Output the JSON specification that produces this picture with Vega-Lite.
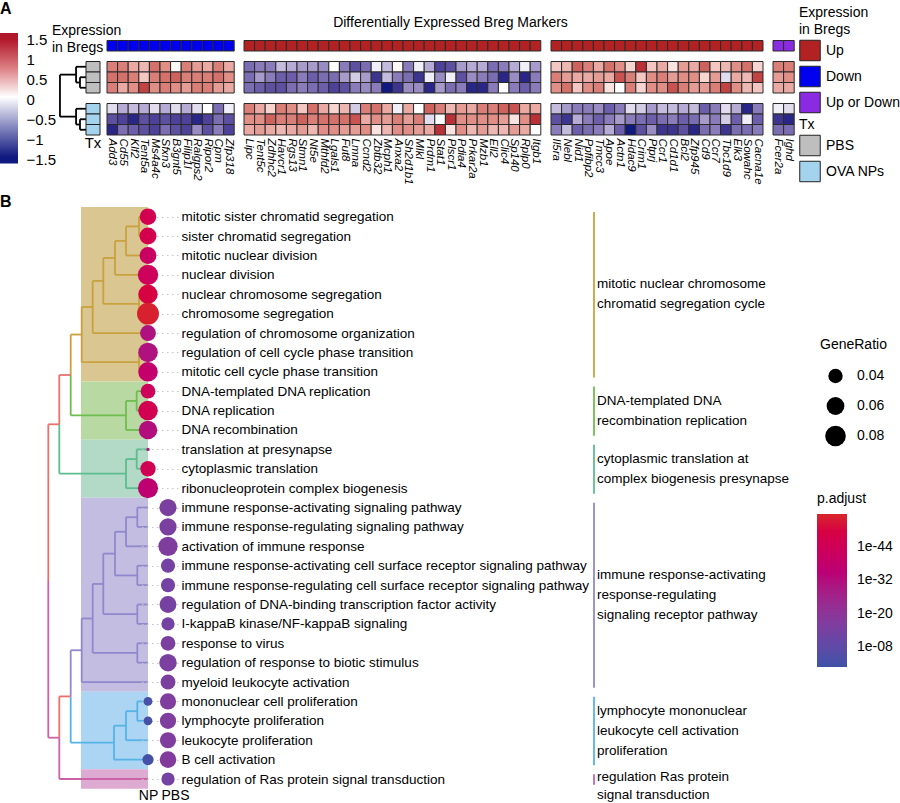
{
  "$schema": "https://vega.github.io/schema/vega-lite/v6.json",
  "padding": {"left": 0, "top": 0, "right": 0, "bottom": 0},
  "config": {
    "font": "Liberation Sans",
    "view": {"stroke": null},
    "axis": {"domain": false, "ticks": false, "grid": false, "labelColor": "#000", "labelFont": "Liberation Sans"},
    "legend": {"titleFontWeight": "normal", "titleFontSize": 14, "labelFontSize": 14, "titleColor": "#000", "labelColor": "#000", "padding": 0, "titleFont": "Liberation Sans", "labelFont": "Liberation Sans"},
    "title": {"color": "#000", "font": "Liberation Sans"}
  },
  "spacing": 8,
  "resolve": {"scale": {"color": "independent", "fill": "independent", "stroke": "independent", "size": "independent"}},
  "vconcat": [
    {
      "hconcat": [
        {
          "title": {"text": "A", "anchor": "start", "frame": "group", "fontSize": 16, "fontWeight": "bold", "offset": 13.5},
          "width": 18,
          "height": 135.5,
          "data": {"values": [{}]},
          "mark": {"type": "rect", "fill": {"gradient": "linear", "x1": 0, "y1": 0, "x2": 0, "y2": 1, "stops": [
            {"offset": 0, "color": "#B2182B"}, {"offset": 0.05, "color": "#B2182B"}, {"offset": 0.27, "color": "#DC8084"},
            {"offset": 0.49, "color": "#FFFFFF"}, {"offset": 0.72, "color": "#8487BE"}, {"offset": 0.95, "color": "#10197F"}, {"offset": 1, "color": "#10197F"}]}},
          "encoding": {
            "x": {"datum": 0, "type": "quantitative", "scale": {"domain": [0, 1]}, "axis": null},
            "x2": {"datum": 1},
            "y": {"datum": 1.66, "type": "quantitative", "scale": {"domain": [-1.65, 1.7375], "nice": false, "zero": false},
              "axis": {"orient": "right", "values": [-1.5, -1, -0.5, 0, 0.5, 1, 1.5], "format": ".1~f", "labelFontSize": 15, "labelPadding": 8, "title": null}},
            "y2": {"datum": -1.6}
          }
        },
        {
          "width": 75,
          "height": 105,
          "resolve": {"scale": {"y": "independent"}},
          "layer": [
            {
              "data": {"values": [
                {"h": 0, "h2": 0.43, "r": 4.5, "r2": 4.5}, {"h": 0, "h2": 0.43, "r": 5.5, "r2": 5.5}, {"h": 0.43, "h2": 0.43, "r": 4.5, "r2": 5.5},
                {"h": 0, "h2": 0.71, "r": 3.5, "r2": 3.5}, {"h": 0.43, "h2": 0.71, "r": 5.0, "r2": 5.0}, {"h": 0.71, "h2": 0.71, "r": 3.5, "r2": 5.0},
                {"h": 0, "h2": 0.43, "r": 8.5, "r2": 8.5}, {"h": 0, "h2": 0.43, "r": 9.5, "r2": 9.5}, {"h": 0.43, "h2": 0.43, "r": 8.5, "r2": 9.5},
                {"h": 0, "h2": 0.71, "r": 7.5, "r2": 7.5}, {"h": 0.43, "h2": 0.71, "r": 9.0, "r2": 9.0}, {"h": 0.71, "h2": 0.71, "r": 7.5, "r2": 9.0},
                {"h": 0.71, "h2": 1.86, "r": 4.25, "r2": 4.25}, {"h": 0.71, "h2": 1.86, "r": 8.25, "r2": 8.25}, {"h": 1.86, "h2": 1.86, "r": 4.25, "r2": 8.25}
              ]},
              "mark": {"type": "rule", "strokeWidth": 1.8, "color": "#000"},
              "encoding": {
                "x": {"field": "h", "type": "quantitative", "scale": {"domain": [-1, 4.357], "reverse": true, "nice": false, "zero": false}, "axis": null},
                "x2": {"field": "h2"},
                "y": {"field": "r", "type": "quantitative", "scale": {"domain": [0, 10], "reverse": true, "nice": false, "zero": false}, "axis": null},
                "y2": {"field": "r2"}
              }
            },
            {
              "data": {"values": [
                {"sample": "PBS1", "tx": "PBS"}, {"sample": "PBS2", "tx": "PBS"}, {"sample": "PBS3", "tx": "PBS"},
                {"sample": "NP1", "tx": "OVA NPs"}, {"sample": "NP2", "tx": "OVA NPs"}, {"sample": "NP3", "tx": "OVA NPs"}
              ]},
              "mark": {"type": "rect", "stroke": "#222", "strokeWidth": 1},
              "encoding": {
                "x": {"datum": 0, "type": "quantitative"},
                "x2": {"datum": -1},
                "y": {"field": "sample", "type": "nominal", "scale": {"domain": ["pad", "anno", "g1", "PBS1", "PBS2", "PBS3", "g2", "NP1", "NP2", "NP3"]}, "axis": null},
                "fill": {"field": "tx", "type": "nominal", "scale": {"domain": ["PBS", "OVA NPs"], "range": ["#BEBEBE", "#A4D3EE"]},
                  "legend": {"title": "Tx", "orient": "none", "legendX": 774, "legendY": 87.5, "symbolType": "square", "symbolSize": 420, "symbolStrokeColor": "#222", "symbolStrokeWidth": 1, "symbolOpacity": 1, "rowPadding": 0, "labelOffset": 5, "titlePadding": 3}}
              }
            },
            {
              "data": {"values": [{"t": ["Expression", "in Bregs"]}]},
              "mark": {"type": "text", "align": "left", "baseline": "middle", "fontSize": 14, "lineHeight": 17},
              "encoding": {
                "x": {"datum": 2.43, "type": "quantitative"},
                "y": {"datum": 0.14, "type": "quantitative", "scale": {"domain": [0, 10], "reverse": true, "nice": false, "zero": false}, "axis": null},
                "text": {"field": "t"}
              }
            },
            {
              "data": {"values": [{"t": "Tx"}]},
              "mark": {"type": "text", "align": "center", "baseline": "middle", "fontSize": 15},
              "encoding": {
                "x": {"datum": -0.5, "type": "quantitative"},
                "y": {"datum": 10.8, "type": "quantitative", "scale": {"domain": [0, 10], "reverse": true, "nice": false, "zero": false}, "axis": null},
                "text": {"field": "t"}
              }
            }
          ]
        },
        {
          "data": {"values": [
            {"gene": "Add3", "grp": "g1", "dir": "Down", "PBS1": 0.9, "PBS2": 1.0, "PBS3": 0.9, "NP1": -0.2, "NP2": -1.1, "NP3": -1.4},
            {"gene": "Cd55", "grp": "g1", "dir": "Down", "PBS1": 0.9, "PBS2": 1.0, "PBS3": 0.6, "NP1": -0.5, "NP2": -1.2, "NP3": -0.9},
            {"gene": "Klf2", "grp": "g1", "dir": "Down", "PBS1": 0.6, "PBS2": 0.9, "PBS3": 0.8, "NP1": -0.4, "NP2": -1.4, "NP3": -1.0},
            {"gene": "Tent5a", "grp": "g1", "dir": "Down", "PBS1": 0.5, "PBS2": 0.4, "PBS3": 1.3, "NP1": -0.5, "NP2": -1.1, "NP3": -1.1},
            {"gene": "Ms4a4c", "grp": "g1", "dir": "Down", "PBS1": 1.0, "PBS2": 0.9, "PBS3": 0.8, "NP1": -0.2, "NP2": -1.2, "NP3": -1.2},
            {"gene": "Sfxn3", "grp": "g1", "dir": "Down", "PBS1": 0.8, "PBS2": 1.0, "PBS3": 0.9, "NP1": -0.5, "NP2": -1.1, "NP3": -0.9},
            {"gene": "B3gnt5", "grp": "g1", "dir": "Down", "PBS1": 0.05, "PBS2": 1.1, "PBS3": 0.8, "NP1": -0.2, "NP2": -1.2, "NP3": -1.1},
            {"gene": "Filip1l", "grp": "g1", "dir": "Down", "PBS1": 0.9, "PBS2": 0.9, "PBS3": 0.7, "NP1": -0.5, "NP2": -1.2, "NP3": -1.2},
            {"gene": "Ralgps2", "grp": "g1", "dir": "Down", "PBS1": 0.7, "PBS2": 0.9, "PBS3": 0.9, "NP1": -0.2, "NP2": -1.4, "NP3": -0.7},
            {"gene": "Ripor2", "grp": "g1", "dir": "Down", "PBS1": 0.6, "PBS2": 0.9, "PBS3": 0.9, "NP1": 0.0, "NP2": -1.2, "NP3": -1.1},
            {"gene": "Cpm", "grp": "g1", "dir": "Down", "PBS1": 0.9, "PBS2": 1.0, "PBS3": 0.7, "NP1": -0.9, "NP2": -0.9, "NP3": -0.8},
            {"gene": "Zfp318", "grp": "g1", "dir": "Down", "PBS1": 0.6, "PBS2": 0.8, "PBS3": 0.6, "NP1": -0.1, "NP2": -1.1, "NP3": -1.2},
            {"gene": "Lipc", "grp": "g2", "dir": "Up", "PBS1": -0.9, "PBS2": -0.9, "PBS3": -0.9, "NP1": 0.9, "NP2": 0.8, "NP3": 0.6},
            {"gene": "Tent5c", "grp": "g2", "dir": "Up", "PBS1": -0.8, "PBS2": -0.6, "PBS3": -1.0, "NP1": 0.6, "NP2": 0.8, "NP3": 0.7},
            {"gene": "Zdhhc2", "grp": "g2", "dir": "Up", "PBS1": -0.8, "PBS2": -0.8, "PBS3": -1.1, "NP1": 0.3, "NP2": 1.1, "NP3": 0.6},
            {"gene": "Havcr1", "grp": "g2", "dir": "Up", "PBS1": -0.4, "PBS2": -1.0, "PBS3": -1.1, "NP1": 0.9, "NP2": 0.9, "NP3": 0.5},
            {"gene": "Rgs13", "grp": "g2", "dir": "Up", "PBS1": -0.5, "PBS2": -1.0, "PBS3": -0.9, "NP1": 0.8, "NP2": 0.9, "NP3": 0.6},
            {"gene": "Stmn1", "grp": "g2", "dir": "Up", "PBS1": -0.6, "PBS2": -0.8, "PBS3": -0.8, "NP1": 0.4, "NP2": 1.1, "NP3": 0.7},
            {"gene": "Nt5e", "grp": "g2", "dir": "Up", "PBS1": -0.6, "PBS2": -1.0, "PBS3": -0.9, "NP1": 1.0, "NP2": 0.9, "NP3": 0.5},
            {"gene": "Mthfd2", "grp": "g2", "dir": "Up", "PBS1": -0.7, "PBS2": -0.9, "PBS3": -1.0, "NP1": 0.6, "NP2": 1.0, "NP3": 0.8},
            {"gene": "Lgals1", "grp": "g2", "dir": "Up", "PBS1": 0.0, "PBS2": -0.9, "PBS3": -1.2, "NP1": 0.3, "NP2": 1.0, "NP3": 0.8},
            {"gene": "Fut8", "grp": "g2", "dir": "Up", "PBS1": -0.8, "PBS2": -0.6, "PBS3": -1.1, "NP1": 0.5, "NP2": 1.0, "NP3": 0.7},
            {"gene": "Lmna", "grp": "g2", "dir": "Up", "PBS1": -1.1, "PBS2": -0.3, "PBS3": -0.8, "NP1": -0.3, "NP2": 1.2, "NP3": 0.7},
            {"gene": "Ccnd2", "grp": "g2", "dir": "Up", "PBS1": -0.9, "PBS2": -0.6, "PBS3": -0.7, "NP1": 0.9, "NP2": 0.6, "NP3": 0.8},
            {"gene": "Zbtb32", "grp": "g2", "dir": "Up", "PBS1": -0.1, "PBS2": -1.3, "PBS3": -0.8, "NP1": 1.0, "NP2": 0.8, "NP3": 0.2},
            {"gene": "Mcph1", "grp": "g2", "dir": "Up", "PBS1": -0.4, "PBS2": -0.4, "PBS3": -1.6, "NP1": 0.6, "NP2": 0.7, "NP3": 0.5},
            {"gene": "Anxa2", "grp": "g2", "dir": "Up", "PBS1": 0.05, "PBS2": -0.8, "PBS3": -1.3, "NP1": -0.1, "NP2": 0.9, "NP3": 0.8},
            {"gene": "Sh2d1b1", "grp": "g2", "dir": "Up", "PBS1": -0.8, "PBS2": -0.9, "PBS3": -0.7, "NP1": 0.6, "NP2": 0.7, "NP3": 0.8},
            {"gene": "Mlkl", "grp": "g2", "dir": "Up", "PBS1": -0.1, "PBS2": -1.3, "PBS3": -0.7, "NP1": 0.0, "NP2": 0.9, "NP3": 0.7},
            {"gene": "Prdm1", "grp": "g2", "dir": "Up", "PBS1": -0.5, "PBS2": -0.1, "PBS3": -1.4, "NP1": 1.1, "NP2": -0.2, "NP3": 0.6},
            {"gene": "Stat1", "grp": "g2", "dir": "Up", "PBS1": -1.2, "PBS2": -0.7, "PBS3": -0.6, "NP1": 0.9, "NP2": 0.0, "NP3": 1.4},
            {"gene": "Plscr1", "grp": "g2", "dir": "Up", "PBS1": -1.1, "PBS2": -0.1, "PBS3": -0.9, "NP1": 0.5, "NP2": 1.4, "NP3": 0.2},
            {"gene": "Pdia4", "grp": "g2", "dir": "Up", "PBS1": -0.6, "PBS2": -1.1, "PBS3": -0.8, "NP1": 0.7, "NP2": 0.8, "NP3": 0.8},
            {"gene": "Prkar2a", "grp": "g2", "dir": "Up", "PBS1": -0.5, "PBS2": -0.7, "PBS3": -1.4, "NP1": 0.6, "NP2": 0.8, "NP3": 0.5},
            {"gene": "Mzb1", "grp": "g2", "dir": "Up", "PBS1": -0.5, "PBS2": -0.8, "PBS3": -1.4, "NP1": 0.9, "NP2": 0.8, "NP3": 0.7},
            {"gene": "Ell2", "grp": "g2", "dir": "Up", "PBS1": -0.9, "PBS2": -0.9, "PBS3": -0.8, "NP1": 0.9, "NP2": 0.8, "NP3": 0.5},
            {"gene": "Clic4", "grp": "g2", "dir": "Up", "PBS1": -0.8, "PBS2": -1.4, "PBS3": 0.0, "NP1": 1.1, "NP2": 0.7, "NP3": 0.5},
            {"gene": "Sp140", "grp": "g2", "dir": "Up", "PBS1": -0.5, "PBS2": -0.7, "PBS3": -0.8, "NP1": 1.2, "NP2": 0.2, "NP3": 0.7},
            {"gene": "Rplp0", "grp": "g2", "dir": "Up", "PBS1": -0.1, "PBS2": -1.4, "PBS3": -1.0, "NP1": 0.6, "NP2": 0.8, "NP3": 0.6},
            {"gene": "Itgb1", "grp": "g2", "dir": "Up", "PBS1": -0.6, "PBS2": -0.8, "PBS3": -0.8, "NP1": 0.6, "NP2": 1.4, "NP3": 0.0},
            {"gene": "Il5ra", "grp": "g3", "dir": "Up", "PBS1": 0.4, "PBS2": 0.9, "PBS3": 0.8, "NP1": -0.4, "NP2": -1.1, "NP3": -0.8},
            {"gene": "Nebl", "grp": "g3", "dir": "Up", "PBS1": 0.5, "PBS2": 0.7, "PBS3": 1.0, "NP1": -0.6, "NP2": -1.3, "NP3": -0.4},
            {"gene": "Nid1", "grp": "g3", "dir": "Up", "PBS1": 1.1, "PBS2": 0.6, "PBS3": 0.4, "NP1": -0.8, "NP2": -0.5, "NP3": -1.0},
            {"gene": "Ppfibp2", "grp": "g3", "dir": "Up", "PBS1": 0.9, "PBS2": 0.6, "PBS3": 0.8, "NP1": -0.8, "NP2": -0.8, "NP3": -0.9},
            {"gene": "Tmcc3", "grp": "g3", "dir": "Up", "PBS1": 0.6, "PBS2": 0.7, "PBS3": 0.9, "NP1": -0.7, "NP2": -1.0, "NP3": -0.8},
            {"gene": "Apoe", "grp": "g3", "dir": "Up", "PBS1": 1.0, "PBS2": 0.6, "PBS3": 0.2, "NP1": -1.0, "NP2": -0.8, "NP3": -0.5},
            {"gene": "Actn1", "grp": "g3", "dir": "Up", "PBS1": 0.8, "PBS2": 1.2, "PBS3": 0.0, "NP1": -0.8, "NP2": -0.6, "NP3": -1.0},
            {"gene": "Hdac9", "grp": "g3", "dir": "Up", "PBS1": 0.3, "PBS2": 0.9, "PBS3": 0.9, "NP1": -0.2, "NP2": -0.8, "NP3": -1.5},
            {"gene": "Crim1", "grp": "g3", "dir": "Up", "PBS1": 1.4, "PBS2": 0.4, "PBS3": 0.3, "NP1": -0.3, "NP2": -0.9, "NP3": -1.1},
            {"gene": "Ptprj", "grp": "g3", "dir": "Up", "PBS1": 0.4, "PBS2": 0.8, "PBS3": 0.8, "NP1": -0.6, "NP2": -1.0, "NP3": -0.7},
            {"gene": "Ccr1", "grp": "g3", "dir": "Up", "PBS1": 0.6, "PBS2": 0.9, "PBS3": 0.8, "NP1": -0.4, "NP2": -0.9, "NP3": -1.3},
            {"gene": "Cd1d1", "grp": "g3", "dir": "Up", "PBS1": 0.2, "PBS2": 0.7, "PBS3": 1.2, "NP1": -0.4, "NP2": -0.8, "NP3": -1.3},
            {"gene": "Bcl2", "grp": "g3", "dir": "Up", "PBS1": 0.7, "PBS2": 0.8, "PBS3": 0.9, "NP1": -0.5, "NP2": -1.0, "NP3": -1.1},
            {"gene": "Zfp945", "grp": "g3", "dir": "Up", "PBS1": 0.6, "PBS2": 0.8, "PBS3": 0.7, "NP1": -0.4, "NP2": -0.9, "NP3": -1.4},
            {"gene": "Cd9", "grp": "g3", "dir": "Up", "PBS1": 1.1, "PBS2": 0.3, "PBS3": 0.7, "NP1": -1.0, "NP2": -0.6, "NP3": -0.9},
            {"gene": "Ccr7", "grp": "g3", "dir": "Up", "PBS1": 0.4, "PBS2": 0.7, "PBS3": 0.9, "NP1": -0.8, "NP2": -0.8, "NP3": -0.8},
            {"gene": "Tbc1d9", "grp": "g3", "dir": "Up", "PBS1": 0.5, "PBS2": -0.2, "PBS3": 1.3, "NP1": -0.2, "NP2": -0.3, "NP3": -1.3},
            {"gene": "Elk3", "grp": "g3", "dir": "Up", "PBS1": 0.8, "PBS2": 0.6, "PBS3": 0.8, "NP1": -0.5, "NP2": -1.0, "NP3": -0.9},
            {"gene": "Sowahc", "grp": "g3", "dir": "Up", "PBS1": 1.0, "PBS2": 0.5, "PBS3": 0.5, "NP1": -1.4, "NP2": -0.1, "NP3": -0.9},
            {"gene": "Cacna1e", "grp": "g3", "dir": "Up", "PBS1": 0.3, "PBS2": 1.3, "PBS3": 0.4, "NP1": -0.8, "NP2": -1.0, "NP3": -0.8},
            {"gene": "Fcer2a", "grp": "g4", "dir": "Up or Down", "PBS1": 0.9, "PBS2": 0.7, "PBS3": 0.6, "NP1": -0.1, "NP2": -1.3, "NP3": -0.9},
            {"gene": "Ighd", "grp": "g4", "dir": "Up or Down", "PBS1": 0.9, "PBS2": 0.8, "PBS3": 0.6, "NP1": -0.2, "NP2": -1.4, "NP3": -0.9}
          ]},
          "title": {"text": "Differentially Expressed Breg Markers", "fontSize": 14, "fontWeight": "normal", "anchor": "middle", "offset": 0},
          "facet": {"column": {"field": "grp", "type": "nominal", "header": null}},
          "spacing": {"column": 8},
          "resolve": {"scale": {"x": "independent"}},
          "spec": {
            "width": {"step": 10.6},
            "height": {"step": 10.5},
            "layer": [
              {
                "transform": [{"fold": ["PBS1", "PBS2", "PBS3", "NP1", "NP2", "NP3"], "as": ["sample", "z"]}],
                "mark": {"type": "rect", "stroke": "#2a2a2a", "strokeWidth": 1},
                "encoding": {
                  "x": {"field": "gene", "type": "nominal", "sort": null, "axis": {"title": null, "orient": "bottom", "labelAngle": 90, "labelFontStyle": "italic", "labelFontSize": 11.5, "labelPadding": 3}},
                  "y": {"field": "sample", "type": "nominal", "scale": {"domain": ["pad", "anno", "g1", "PBS1", "PBS2", "PBS3", "g2", "NP1", "NP2", "NP3"]}, "axis": null},
                  "fill": {"field": "z", "type": "quantitative", "scale": {"domain": [-1.5, 0, 1.5], "range": ["#10197F", "#FFFFFF", "#B2182B"], "interpolate": "lab", "clamp": true}, "legend": null}
                }
              },
              {
                "mark": {"type": "rect", "stroke": "#2a2a2a", "strokeWidth": 1},
                "encoding": {
                  "x": {"field": "gene", "type": "nominal", "sort": null},
                  "y": {"datum": "anno", "type": "nominal"},
                  "color": {"field": "dir", "type": "nominal", "scale": {"domain": ["Up", "Down", "Up or Down"], "range": ["#B22222", "#0000EE", "#8A2BE2"]},
                    "legend": {"title": ["Expression", "in Bregs"], "orient": "none", "legendX": 799, "legendY": -24.5, "symbolType": "square", "symbolSize": 420, "symbolStrokeColor": "#222", "symbolStrokeWidth": 1, "symbolOpacity": 1, "rowPadding": 0, "labelOffset": 5, "titlePadding": 3, "titleLineHeight": 17}}
                }
              }
            ]
          }
        }
      ],
      "spacing": 7,
      "bounds": "flush",
      "resolve": {"scale": {"color": "shared", "fill": "independent"}}
    },
    {
      "hconcat": [
        {
          "hconcat": [
            {
              "title": {"text": "B", "anchor": "start", "frame": "group", "fontSize": 16, "fontWeight": "bold", "offset": -2.5},
              "width": 138,
              "height": 581.7,
              "layer": [
                {
                  "data": {"values": [
                    {"cl": "c1", "first": 0, "last": 9}, {"cl": "c2", "first": 9, "last": 12}, {"cl": "c3", "first": 12, "last": 15},
                    {"cl": "c4", "first": 15, "last": 25}, {"cl": "c5", "first": 25, "last": 29}, {"cl": "c6", "first": 29, "last": 30}
                  ]},
                  "mark": {"type": "rect"},
                  "encoding": {
                    "x": {"datum": 0, "type": "quantitative", "scale": {"domain": [1.0, 14.8], "reverse": true, "nice": false, "zero": false}, "axis": null},
                    "x2": {"datum": 6.7},
                    "y": {"field": "first", "type": "quantitative", "scale": {"domain": [0, 30], "reverse": true, "nice": false, "zero": false}, "axis": null},
                    "y2": {"field": "last"},
                    "fill": {"field": "cl", "type": "nominal", "scale": {"domain": ["c1", "c2", "c3", "c4", "c5", "c6"], "range": ["#D9C690", "#B9D9A2", "#B3DAC6", "#C3BDE1", "#ABD5F2", "#DDAAD1"]}, "legend": null}
                  }
                },
                {
                  "data": {"values": [
                    {"h": 0, "h2": 0.9, "r": 0.5, "r2": 0.5, "b": "c1"}, {"h": 0, "h2": 0.9, "r": 1.5, "r2": 1.5, "b": "c1"}, {"h": 0.9, "h2": 0.9, "r": 0.5, "r2": 1.5, "b": "c1"},
                    {"h": 0.9, "h2": 2.2, "r": 1.0, "r2": 1.0, "b": "c1"}, {"h": 0, "h2": 2.2, "r": 2.5, "r2": 2.5, "b": "c1"}, {"h": 2.2, "h2": 2.2, "r": 1.0, "r2": 2.5, "b": "c1"},
                    {"h": 2.2, "h2": 3.3, "r": 1.75, "r2": 1.75, "b": "c1"}, {"h": 0, "h2": 3.3, "r": 3.5, "r2": 3.5, "b": "c1"}, {"h": 3.3, "h2": 3.3, "r": 1.75, "r2": 3.5, "b": "c1"},
                    {"h": 0, "h2": 0.9, "r": 4.5, "r2": 4.5, "b": "c1"}, {"h": 0, "h2": 0.9, "r": 5.5, "r2": 5.5, "b": "c1"}, {"h": 0.9, "h2": 0.9, "r": 4.5, "r2": 5.5, "b": "c1"},
                    {"h": 3.3, "h2": 4.47, "r": 2.625, "r2": 2.625, "b": "c1"}, {"h": 0.9, "h2": 4.47, "r": 5.0, "r2": 5.0, "b": "c1"}, {"h": 4.47, "h2": 4.47, "r": 2.625, "r2": 5.0, "b": "c1"},
                    {"h": 4.47, "h2": 5.53, "r": 3.8125, "r2": 3.8125, "b": "c1"}, {"h": 0, "h2": 5.53, "r": 6.5, "r2": 6.5, "b": "c1"}, {"h": 5.53, "h2": 5.53, "r": 3.8125, "r2": 6.5, "b": "c1"},
                    {"h": 0, "h2": 0.9, "r": 7.5, "r2": 7.5, "b": "c1"}, {"h": 0, "h2": 0.9, "r": 8.5, "r2": 8.5, "b": "c1"}, {"h": 0.9, "h2": 0.9, "r": 7.5, "r2": 8.5, "b": "c1"},
                    {"h": 5.53, "h2": 6.63, "r": 5.156, "r2": 5.156, "b": "c1"}, {"h": 0.9, "h2": 6.63, "r": 8.0, "r2": 8.0, "b": "c1"}, {"h": 6.63, "h2": 6.63, "r": 5.156, "r2": 8.0, "b": "c1"},
                    {"h": 6.63, "h2": 7.73, "r": 6.578, "r2": 6.578, "b": "c1"}, {"h": 7.73, "h2": 7.73, "r": 6.578, "r2": 8.664, "b": "c1"},
                    {"h": 0, "h2": 1.13, "r": 9.5, "r2": 9.5, "b": "c2"}, {"h": 0, "h2": 1.13, "r": 10.5, "r2": 10.5, "b": "c2"}, {"h": 1.13, "h2": 1.13, "r": 9.5, "r2": 10.5, "b": "c2"},
                    {"h": 1.13, "h2": 2.2, "r": 10.0, "r2": 10.0, "b": "c2"}, {"h": 0, "h2": 2.2, "r": 11.5, "r2": 11.5, "b": "c2"}, {"h": 2.2, "h2": 2.2, "r": 10.0, "r2": 11.5, "b": "c2"},
                    {"h": 2.2, "h2": 7.73, "r": 10.75, "r2": 10.75, "b": "c2"}, {"h": 7.73, "h2": 7.73, "r": 8.664, "r2": 10.75, "b": "c2"},
                    {"h": 7.73, "h2": 8.87, "r": 8.664, "r2": 8.664, "b": "top"}, {"h": 8.87, "h2": 8.87, "r": 8.664, "r2": 11.207, "b": "top"},
                    {"h": 0, "h2": 1.13, "r": 12.5, "r2": 12.5, "b": "c3"}, {"h": 0, "h2": 1.13, "r": 13.5, "r2": 13.5, "b": "c3"}, {"h": 1.13, "h2": 1.13, "r": 12.5, "r2": 13.5, "b": "c3"},
                    {"h": 1.13, "h2": 2.2, "r": 13.0, "r2": 13.0, "b": "c3"}, {"h": 0, "h2": 2.2, "r": 14.5, "r2": 14.5, "b": "c3"}, {"h": 2.2, "h2": 2.2, "r": 13.0, "r2": 14.5, "b": "c3"},
                    {"h": 2.2, "h2": 8.87, "r": 13.75, "r2": 13.75, "b": "c3"}, {"h": 8.87, "h2": 8.87, "r": 11.207, "r2": 13.75, "b": "c3"},
                    {"h": 8.87, "h2": 9.97, "r": 11.207, "r2": 11.207, "b": "top"}, {"h": 9.97, "h2": 9.97, "r": 11.207, "r2": 19.29, "b": "top"},
                    {"h": 8.87, "h2": 9.97, "r": 27.37, "r2": 27.37, "b": "c6"}, {"h": 9.97, "h2": 9.97, "r": 19.29, "r2": 27.37, "b": "c6"},
                    {"h": 0, "h2": 1.07, "r": 15.5, "r2": 15.5, "b": "c4"}, {"h": 0, "h2": 1.07, "r": 16.5, "r2": 16.5, "b": "c4"}, {"h": 1.07, "h2": 1.07, "r": 15.5, "r2": 16.5, "b": "c4"},
                    {"h": 1.07, "h2": 2.2, "r": 16.0, "r2": 16.0, "b": "c4"}, {"h": 0, "h2": 2.2, "r": 17.5, "r2": 17.5, "b": "c4"}, {"h": 2.2, "h2": 2.2, "r": 16.0, "r2": 17.5, "b": "c4"},
                    {"h": 0, "h2": 1.07, "r": 18.5, "r2": 18.5, "b": "c4"}, {"h": 0, "h2": 1.07, "r": 19.5, "r2": 19.5, "b": "c4"}, {"h": 1.07, "h2": 1.07, "r": 18.5, "r2": 19.5, "b": "c4"},
                    {"h": 2.2, "h2": 3.3, "r": 16.75, "r2": 16.75, "b": "c4"}, {"h": 1.07, "h2": 3.3, "r": 19.0, "r2": 19.0, "b": "c4"}, {"h": 3.3, "h2": 3.3, "r": 16.75, "r2": 19.0, "b": "c4"},
                    {"h": 0, "h2": 1.07, "r": 20.5, "r2": 20.5, "b": "c4"}, {"h": 0, "h2": 1.07, "r": 21.5, "r2": 21.5, "b": "c4"}, {"h": 1.07, "h2": 1.07, "r": 20.5, "r2": 21.5, "b": "c4"},
                    {"h": 3.3, "h2": 4.47, "r": 17.875, "r2": 17.875, "b": "c4"}, {"h": 1.07, "h2": 4.47, "r": 21.0, "r2": 21.0, "b": "c4"}, {"h": 4.47, "h2": 4.47, "r": 17.875, "r2": 21.0, "b": "c4"},
                    {"h": 0, "h2": 1.07, "r": 22.5, "r2": 22.5, "b": "c4"}, {"h": 0, "h2": 1.07, "r": 23.5, "r2": 23.5, "b": "c4"}, {"h": 1.07, "h2": 1.07, "r": 22.5, "r2": 23.5, "b": "c4"},
                    {"h": 4.47, "h2": 5.53, "r": 19.44, "r2": 19.44, "b": "c4"}, {"h": 1.07, "h2": 5.53, "r": 23.0, "r2": 23.0, "b": "c4"}, {"h": 5.53, "h2": 5.53, "r": 19.44, "r2": 23.0, "b": "c4"},
                    {"h": 5.53, "h2": 6.63, "r": 21.22, "r2": 21.22, "b": "c4"}, {"h": 0, "h2": 6.63, "r": 24.5, "r2": 24.5, "b": "c4"}, {"h": 6.63, "h2": 6.63, "r": 21.22, "r2": 24.5, "b": "c4"},
                    {"h": 6.63, "h2": 7.73, "r": 22.86, "r2": 22.86, "b": "c4"}, {"h": 7.73, "h2": 7.73, "r": 22.86, "r2": 25.24, "b": "c4"},
                    {"h": 0, "h2": 1.07, "r": 25.5, "r2": 25.5, "b": "c5"}, {"h": 0, "h2": 1.07, "r": 26.5, "r2": 26.5, "b": "c5"}, {"h": 1.07, "h2": 1.07, "r": 25.5, "r2": 26.5, "b": "c5"},
                    {"h": 1.07, "h2": 2.2, "r": 26.0, "r2": 26.0, "b": "c5"}, {"h": 0, "h2": 2.2, "r": 27.5, "r2": 27.5, "b": "c5"}, {"h": 2.2, "h2": 2.2, "r": 26.0, "r2": 27.5, "b": "c5"},
                    {"h": 2.2, "h2": 3.4, "r": 26.75, "r2": 26.75, "b": "c5"}, {"h": 0, "h2": 3.4, "r": 28.5, "r2": 28.5, "b": "c5"}, {"h": 3.4, "h2": 3.4, "r": 26.75, "r2": 28.5, "b": "c5"},
                    {"h": 3.4, "h2": 7.73, "r": 27.625, "r2": 27.625, "b": "c5"}, {"h": 7.73, "h2": 7.73, "r": 25.24, "r2": 27.625, "b": "c5"},
                    {"h": 7.73, "h2": 8.87, "r": 25.24, "r2": 25.24, "b": "top"}, {"h": 8.87, "h2": 8.87, "r": 25.24, "r2": 27.37, "b": "top"},
                    {"h": 0, "h2": 8.87, "r": 29.5, "r2": 29.5, "b": "c6"}, {"h": 8.87, "h2": 8.87, "r": 27.37, "r2": 29.5, "b": "c6"}
                  ]},
                  "mark": {"type": "rule", "strokeWidth": 1.8},
                  "encoding": {
                    "x": {"field": "h", "type": "quantitative"},
                    "x2": {"field": "h2"},
                    "y": {"field": "r", "type": "quantitative"},
                    "y2": {"field": "r2"},
                    "stroke": {"field": "b", "type": "nominal", "scale": {"domain": ["c1", "c2", "c3", "c4", "c5", "c6", "top"], "range": ["#C9A23F", "#6DBE4F", "#5CBD8F", "#9088CC", "#55B3E8", "#CC62A8", "#E8716C"]}, "legend": null}
                  }
                }
              ]
            },
            {
              "width": {"step": 20},
              "height": {"step": 19.39},
              "data": {"values": [
                {"term": "mitotic sister chromatid segregation", "grp": "NP", "ratio": 0.052, "padj": 1e-46},
                {"term": "sister chromatid segregation", "grp": "NP", "ratio": 0.055, "padj": 1e-47},
                {"term": "mitotic nuclear division", "grp": "NP", "ratio": 0.054, "padj": 1e-41},
                {"term": "nuclear division", "grp": "NP", "ratio": 0.078, "padj": 1e-43},
                {"term": "nuclear chromosome segregation", "grp": "NP", "ratio": 0.07, "padj": 1e-50},
                {"term": "chromosome segregation", "grp": "NP", "ratio": 0.09, "padj": 1e-55},
                {"term": "regulation of chromosome organization", "grp": "NP", "ratio": 0.048, "padj": 1e-31},
                {"term": "regulation of cell cycle phase transition", "grp": "NP", "ratio": 0.072, "padj": 1e-31},
                {"term": "mitotic cell cycle phase transition", "grp": "NP", "ratio": 0.072, "padj": 1e-38},
                {"term": "DNA-templated DNA replication", "grp": "NP", "ratio": 0.042, "padj": 1e-43},
                {"term": "DNA replication", "grp": "NP", "ratio": 0.072, "padj": 1e-46},
                {"term": "DNA recombination", "grp": "NP", "ratio": 0.065, "padj": 1e-32},
                {"term": "translation at presynapse", "grp": "NP", "ratio": 0.004, "padj": 1e-30},
                {"term": "cytoplasmic translation", "grp": "NP", "ratio": 0.045, "padj": 1e-45},
                {"term": "ribonucleoprotein complex biogenesis", "grp": "NP", "ratio": 0.076, "padj": 1e-36},
                {"term": "immune response-activating signaling pathway", "grp": "PBS", "ratio": 0.056, "padj": 1e-15},
                {"term": "immune response-regulating signaling pathway", "grp": "PBS", "ratio": 0.056, "padj": 1e-15},
                {"term": "activation of immune response", "grp": "PBS", "ratio": 0.07, "padj": 1e-16},
                {"term": "immune response-activating cell surface receptor signaling pathway", "grp": "PBS", "ratio": 0.039, "padj": 1e-13},
                {"term": "immune response-regulating cell surface receptor signaling pathway", "grp": "PBS", "ratio": 0.039, "padj": 1e-13},
                {"term": "regulation of DNA-binding transcription factor activity", "grp": "PBS", "ratio": 0.054, "padj": 1e-14},
                {"term": "I-kappaB kinase/NF-kappaB signaling", "grp": "PBS", "ratio": 0.034, "padj": 1e-13},
                {"term": "response to virus", "grp": "PBS", "ratio": 0.042, "padj": 1e-15},
                {"term": "regulation of response to biotic stimulus", "grp": "PBS", "ratio": 0.058, "padj": 1e-15},
                {"term": "myeloid leukocyte activation", "grp": "PBS", "ratio": 0.043, "padj": 1e-15},
                {"term": "mononuclear cell proliferation", "grp": "NP", "ratio": 0.016, "padj": 0.004},
                {"term": "mononuclear cell proliferation", "grp": "PBS", "ratio": 0.05, "padj": 1e-16},
                {"term": "lymphocyte proliferation", "grp": "NP", "ratio": 0.016, "padj": 0.004},
                {"term": "lymphocyte proliferation", "grp": "PBS", "ratio": 0.05, "padj": 1e-16},
                {"term": "leukocyte proliferation", "grp": "PBS", "ratio": 0.05, "padj": 1e-16},
                {"term": "B cell activation", "grp": "NP", "ratio": 0.025, "padj": 0.01},
                {"term": "B cell activation", "grp": "PBS", "ratio": 0.052, "padj": 1e-17},
                {"term": "regulation of Ras protein signal transduction", "grp": "PBS", "ratio": 0.034, "padj": 1e-13}
              ]},
              "mark": {"type": "circle", "opacity": 1},
              "encoding": {
                "x": {"field": "grp", "type": "nominal", "scale": {"domain": ["NP", "PBS"]},
                  "axis": {"title": null, "orient": "bottom", "labelAngle": 0, "labelFontSize": 14, "labelPadding": 0, "labelOverlap": false,
                    "labelOffset": {"condition": {"test": "datum.value === 'PBS'", "value": 7}, "value": 0}}},
                "y": {"field": "term", "type": "nominal", "sort": null, "axis": {"orient": "right", "title": null, "labelFontSize": 13.5, "labelLimit": 600, "labelPadding": 3,
                  "grid": true, "gridColor": "#c4c4c4", "gridDash": [1.5, 3.5], "gridWidth": 1}},
                "size": {"field": "ratio", "type": "quantitative", "scale": {"domain": [0.004, 0.09], "range": [12, 480], "zero": false},
                  "legend": {"title": "GeneRatio", "orient": "none", "legendX": 682, "legendY": 131, "values": [0.04, 0.06, 0.08], "format": ".2f",
                    "symbolFillColor": "#000", "symbolStrokeColor": "#000", "symbolStrokeWidth": 0, "symbolType": "circle", "symbolOpacity": 1,
                    "clipHeight": 24, "rowPadding": 6, "symbolOffset": 5, "labelOffset": 11, "titlePadding": 12}},
                "color": {"field": "padj", "type": "quantitative", "scale": {"type": "log", "domain": [0.186, 1e-28, 1e-56], "range": ["#3E52A6", "#A51D86", "#D8262A"], "nice": false},
                  "legend": {"title": "p.adjust", "orient": "none", "legendX": 679, "legendY": 285, "gradientLength": 153, "gradientThickness": 30, "direction": "vertical",
                    "values": [1e-44, 1e-32, 1e-20, 1e-8], "labelExpr": "datum.value > 1e-9 ? '1e-08' : format(datum.value, '.0e')", "labelOffset": 10, "titlePadding": 8, "gradientStrokeWidth": 0}}
              }
            }
          ],
          "spacing": 0,
          "bounds": "flush",
          "resolve": {"scale": {"color": "independent", "size": "independent"}}
        },
        {
          "width": 200,
          "height": 581.7,
          "data": {"values": [
            {"cl": "c1", "first": 0, "last": 9, "label": ["mitotic nuclear chromosome", "chromatid segregation cycle"]},
            {"cl": "c2", "first": 9, "last": 12, "label": ["DNA-templated DNA", "recombination replication"]},
            {"cl": "c3", "first": 12, "last": 15, "label": ["cytoplasmic translation at", "complex biogenesis presynapse"]},
            {"cl": "c4", "first": 15, "last": 25, "label": ["immune response-activating", "response-regulating", "signaling receptor pathway"]},
            {"cl": "c5", "first": 25, "last": 29, "label": ["lymphocyte mononuclear", "leukocyte cell activation", "proliferation"]},
            {"cl": "c6", "first": 29, "last": 30, "label": ["regulation Ras protein", "signal transduction"]}
          ]},
          "layer": [
            {
              "mark": {"type": "rule", "strokeWidth": 1.8, "yOffset": 5, "y2Offset": -4},
              "encoding": {
                "x": {"datum": 0, "type": "quantitative", "scale": {"domain": [0, 1]}, "axis": null},
                "y": {"field": "first", "type": "quantitative", "scale": {"domain": [0, 30], "reverse": true, "nice": false, "zero": false}, "axis": null},
                "y2": {"field": "last"},
                "stroke": {"field": "cl", "type": "nominal", "legend": null}
              }
            },
            {
              "transform": [
                {"filter": "datum.cl === 'c1' || datum.cl === 'c2' || datum.cl === 'c3'"},
                {"fold": ["first", "last"], "as": ["edge", "row"]},
                {"joinaggregate": [{"op": "mean", "field": "row", "as": "mid"}], "groupby": ["cl"]},
                {"filter": "datum.edge === 'first'"}
              ],
              "mark": {"type": "text", "align": "left", "baseline": "middle", "dx": 3, "dy": -10, "fontSize": 13.5, "lineHeight": 20},
              "encoding": {
                "x": {"datum": 0, "type": "quantitative"},
                "y": {"field": "mid", "type": "quantitative"},
                "text": {"field": "label"}
              }
            },
            {
              "transform": [
                {"filter": "datum.cl === 'c4' || datum.cl === 'c5'"},
                {"fold": ["first", "last"], "as": ["edge", "row"]},
                {"joinaggregate": [{"op": "mean", "field": "row", "as": "mid"}], "groupby": ["cl"]},
                {"filter": "datum.edge === 'first'"}
              ],
              "mark": {"type": "text", "align": "left", "baseline": "middle", "dx": 3, "dy": -20, "fontSize": 13.5, "lineHeight": 20},
              "encoding": {
                "x": {"datum": 0, "type": "quantitative"},
                "y": {"field": "mid", "type": "quantitative"},
                "text": {"field": "label"}
              }
            },
            {
              "transform": [
                {"filter": "datum.cl === 'c6'"},
                {"fold": ["first", "last"], "as": ["edge", "row"]},
                {"joinaggregate": [{"op": "mean", "field": "row", "as": "mid"}], "groupby": ["cl"]},
                {"filter": "datum.edge === 'first'"}
              ],
              "mark": {"type": "text", "align": "left", "baseline": "middle", "dx": 3, "dy": -2, "fontSize": 13.5, "lineHeight": 18},
              "encoding": {
                "x": {"datum": 0, "type": "quantitative"},
                "y": {"field": "mid", "type": "quantitative"},
                "text": {"field": "label"}
              }
            }
          ]
        }
      ],
      "spacing": 594,
      "bounds": "flush"
    }
  ]
}
